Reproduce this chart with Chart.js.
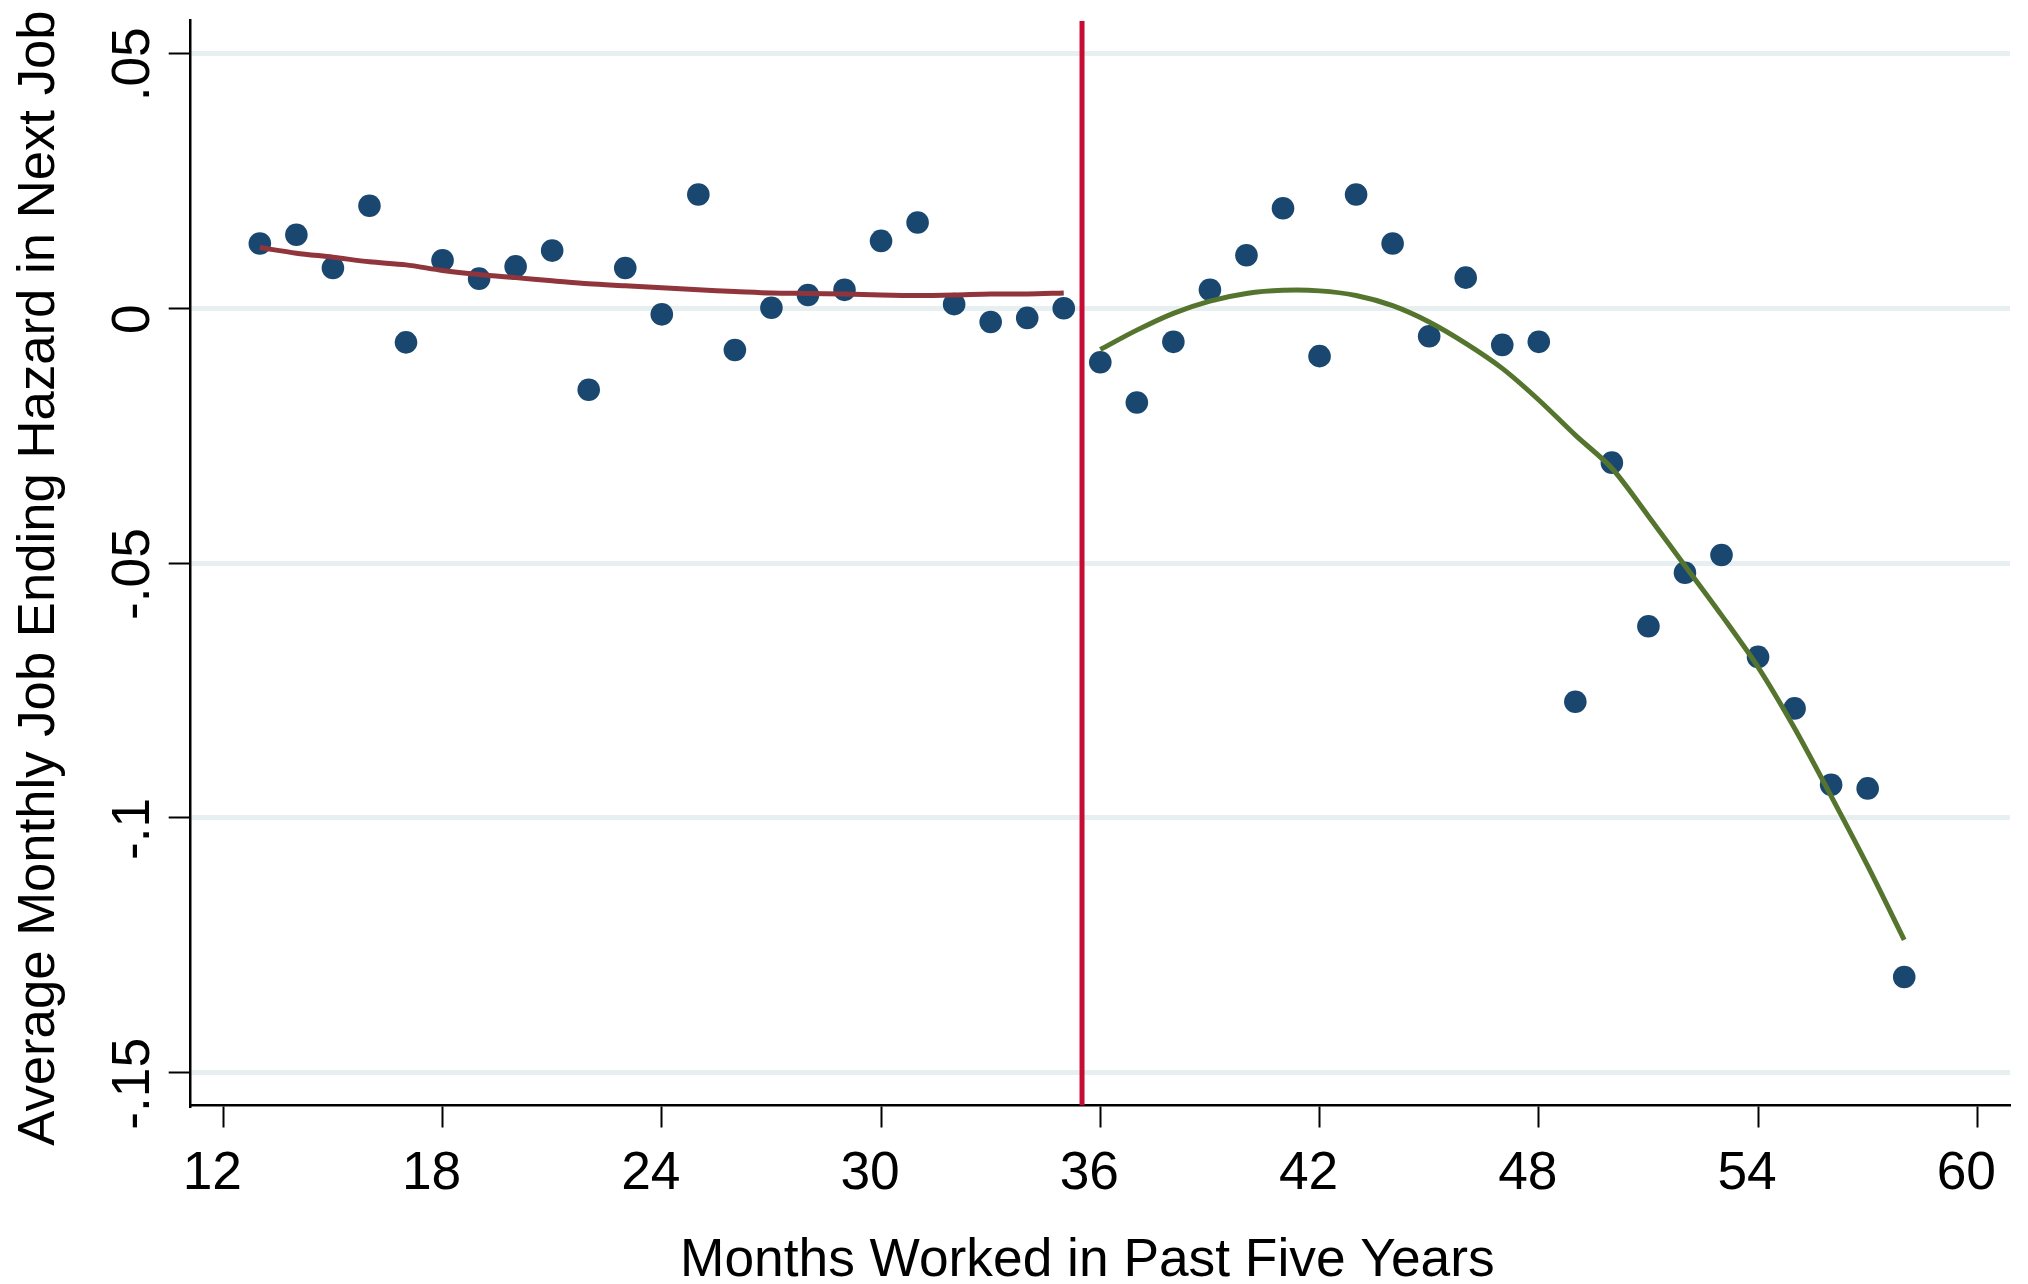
<!DOCTYPE html>
<html>
<head>
<meta charset="utf-8">
<title>Job ending hazard by months worked</title>
<script src="https://cdn.jsdelivr.net/npm/chart.js@4/dist/chart.umd.min.js"></script>
<style>
  html, body { margin: 0; padding: 0; background: #ffffff; }
  #wrap { width: 2028px; height: 1284px; position: relative; }
</style>
</head>
<body>
<div id="wrap"><canvas id="chart"></canvas></div>
<script>
// Months worked in the past five years (bin centres)
const months = [13,14,15,16,17,18,19,20,21,22,23,24,25,26,27,28,29,30,31,32,33,34,35,
                36,37,38,39,40,41,42,43,44,45,46,47,48,49,50,51,52,53,54,55,56,57,58];

// Average monthly job-ending hazard in the next job, per bin
const hazard = [0.0127,0.0144,0.0079,0.0201,-0.0067,0.0094,0.0058,0.0082,0.0113,-0.0160,0.0079,-0.0012,
                0.0223,-0.0082,0.0001,0.0026,0.0036,0.0132,0.0168,0.0008,-0.0027,-0.0019,0.0000,
                -0.0106,-0.0185,-0.0066,0.0036,0.0104,0.0196,-0.0094,0.0223,0.0127,-0.0055,0.0060,
                -0.0072,-0.0066,-0.0772,-0.0303,-0.0624,-0.0519,-0.0484,-0.0684,-0.0785,-0.0935,
                -0.0942,-0.1312];

// Smoothed fit below the 36-month threshold (months 13-35)
const fitLowMonths = [13,14,15,16,17,18,19,20,21,22,23,24,25,26,27,28,29,30,31,32,33,34,35];
const fitLow = [0.0119,0.0108,0.0100,0.0091,0.0085,0.0074,0.0066,0.0060,0.0054,0.0048,0.0044,0.0040,
                0.0036,0.0033,0.0030,0.0029,0.0028,0.0026,0.0025,0.0026,0.0028,0.0028,0.0030];

// Smoothed fit above the threshold (months 36-58)
const fitHighMonths = [36,37,38,39,40,41,42,43,44,45,46,47,48,49,50,51,52,53,54,55,56,57,58];
const fitHigh = [-0.0081,-0.0043,-0.0010,0.0014,0.0029,0.0035,0.0034,0.0025,0.0005,-0.0027,-0.0069,
                 -0.0118,-0.0180,-0.0249,-0.0314,-0.0408,-0.0505,-0.0602,-0.0704,-0.0824,-0.0957,
                 -0.1094,-0.1239];

// Eligibility threshold marker
const cutoff = 35.5;

// Axes
const xTicks = [12,18,24,30,36,42,48,54,60];
const xTickLabels = ['12','18','24','30','36','42','48','54','60'];
const yTicks = [0.05,0,-0.05,-0.1,-0.15];
const yTickLabels = ['.05','0','-.05','-.1','-.15'];
const xRange = [11.108, 60.895];
const yRange = [-0.1564, 0.0564];

const xTitle = 'Months Worked in Past Five Years';
const yTitle = 'Average Monthly Job Ending Hazard in Next Job';

const FAMILY = '"Liberation Sans", Arial, Helvetica, sans-serif';
const FONT = '53.3px ' + FAMILY;
const Y_TITLE_FONT = '52.7px ' + FAMILY;

const pts = (xs, ys) => xs.map((x, i) => ({ x: x, y: ys[i] }));

// Tick labels and axis titles, placed from the chart's own scales
const axisText = {
  id: 'axisText',
  afterDraw(chart) {
    const { ctx, chartArea, scales } = chart;
    const xs = scales.x, ys = scales.y;
    ctx.save();
    ctx.fillStyle = '#000000';
    ctx.font = FONT;

    ctx.textAlign = 'center';
    ctx.textBaseline = 'alphabetic';
    xTicks.forEach((v, i) => {
      ctx.fillText(xTickLabels[i], xs.getPixelForValue(v) - 11, chartArea.bottom + 83);
    });

    yTicks.forEach((v, i) => {
      ctx.save();
      ctx.translate(149.3, ys.getPixelForValue(v) + 11);
      ctx.rotate(-Math.PI / 2);
      ctx.fillText(yTickLabels[i], 0, 0);
      ctx.restore();
    });

    ctx.fillText(xTitle, (chartArea.left + chartArea.right) / 2 - 13, chartArea.bottom + 170.5);

    ctx.save();
    ctx.font = Y_TITLE_FONT;
    ctx.translate(54.3, (chartArea.top + chartArea.bottom) / 2 + 15);
    ctx.rotate(-Math.PI / 2);
    ctx.fillText(yTitle, 0, 0);
    ctx.restore();

    ctx.restore();
  }
};

new Chart(document.getElementById('chart'), {
  type: 'scatter',
  data: {
    datasets: [
      {
        type: 'line',
        data: pts(fitLowMonths, fitLow),
        borderColor: '#90353b',
        borderWidth: 5,
        pointRadius: 0,
        tension: 0.3,
        fill: false,
        order: 0
      },
      {
        type: 'line',
        data: pts(fitHighMonths, fitHigh),
        borderColor: '#55752f',
        borderWidth: 5,
        pointRadius: 0,
        tension: 0.3,
        fill: false,
        order: 1
      },
      {
        type: 'scatter',
        data: pts(months, hazard),
        backgroundColor: '#1a476f',
        borderColor: '#1a476f',
        borderWidth: 0,
        pointRadius: 11.3,
        order: 2
      },
      {
        type: 'line',
        data: [{ x: cutoff, y: yRange[0] }, { x: cutoff, y: yRange[1] }],
        borderColor: '#c60c35',
        borderWidth: 5,
        pointRadius: 0,
        fill: false,
        order: 3
      }
    ]
  },
  options: {
    responsive: true,
    maintainAspectRatio: false,
    devicePixelRatio: 1,
    animation: false,
    events: [],
    layout: { padding: { top: 20.7, right: 18, bottom: 0, left: 0 } },
    plugins: { legend: { display: false }, tooltip: { enabled: false }, title: { display: false } },
    scales: {
      x: {
        type: 'linear',
        min: xRange[0],
        max: xRange[1],
        afterBuildTicks: s => { s.ticks = xTicks.map(v => ({ value: v })); },
        afterFit: s => { s.height = 178.5; },
        ticks: { display: false },
        grid: {
          display: true,
          drawOnChartArea: false,
          drawTicks: true,
          tickLength: 22,
          tickColor: '#000000',
          tickWidth: 2
        },
        border: { display: true, color: '#000000', width: 2.5 }
      },
      y: {
        type: 'linear',
        min: yRange[0],
        max: yRange[1],
        afterBuildTicks: s => { s.ticks = yTicks.map(v => ({ value: v })); },
        afterFit: s => { s.width = 190.7; },
        ticks: { display: false },
        grid: {
          display: true,
          drawOnChartArea: true,
          color: '#e8eff1',
          lineWidth: 5,
          drawTicks: true,
          tickLength: 22,
          tickColor: '#000000',
          tickWidth: 2
        },
        border: { display: true, color: '#000000', width: 2.5 }
      }
    }
  },
  plugins: [axisText]
});
</script>
</body>
</html>
